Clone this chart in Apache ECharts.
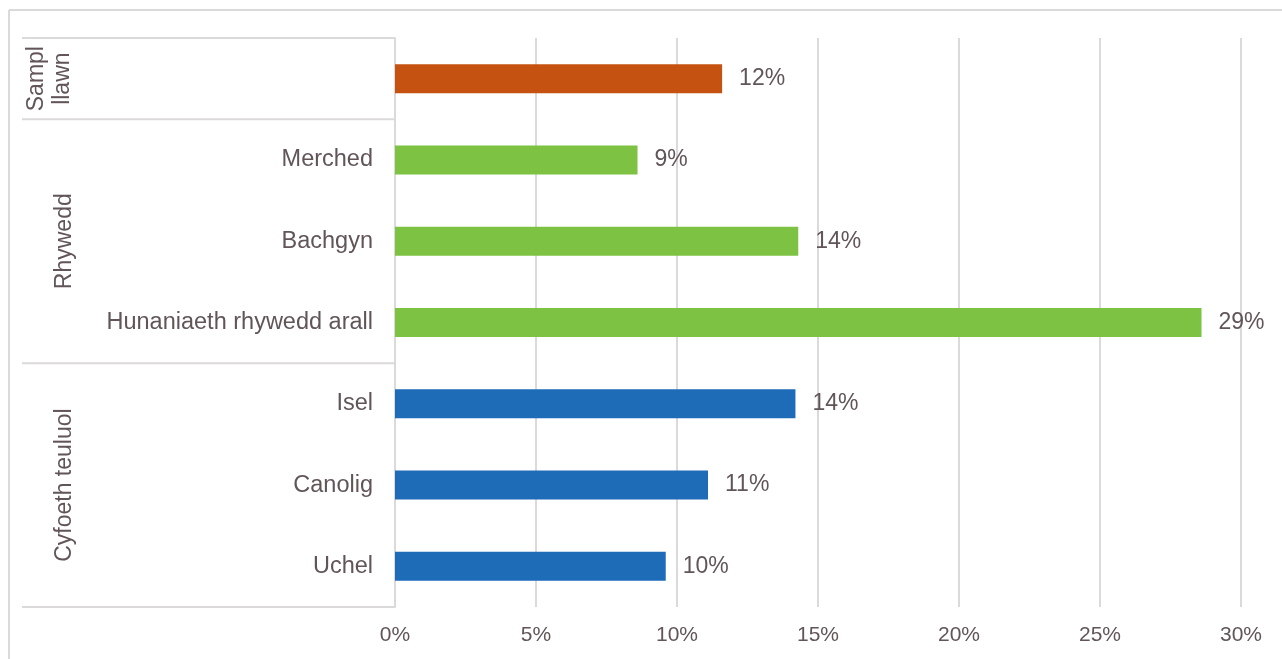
<!DOCTYPE html>
<html>
<head>
<meta charset="utf-8">
<script src="https://cdn.jsdelivr.net/npm/echarts@6/dist/echarts.min.js"></script>
<style>
  html, body { margin: 0; padding: 0; background: #fff; }
  #chart { width: 1282px; height: 659px; }
</style>
</head>
<body>
<div id="chart"></div>
<script>
// categories top to bottom
var categories = ['Sampl llawn', 'Merched', 'Bachgyn', 'Hunaniaeth rhywedd arall', 'Isel', 'Canolig', 'Uchel'];
var shownLabels = ['', 'Merched', 'Bachgyn', 'Hunaniaeth rhywedd arall', 'Isel', 'Canolig', 'Uchel'];
var values = [11.6, 8.6, 14.3, 28.6, 14.2, 11.1, 9.6];
var barColors = ['#c55211', '#7dc242', '#7dc242', '#7dc242', '#1e6bb8', '#1e6bb8', '#1e6bb8'];

// outer category groups
var groupNames = ['Sampl\nllawn', 'Rhywedd', 'Cyfoeth teuluol'];
var groupSizes = [1, 3, 3];
var groupLabelX = [50, 65, 65];

var xTicks = [0, 5, 10, 15, 20, 25, 30];

var textColor = '#615558';
var lineColor = '#dcd9da';
var fontFam = '"Liberation Sans", Arial, sans-serif';

var chart = echarts.init(document.getElementById('chart'), null, { renderer: 'canvas' });

chart.setOption({
  animation: false,
  textStyle: { fontFamily: fontFam },
  grid: { left: 395, right: 41, top: 38, bottom: 52, containLabel: false },
  xAxis: {
    type: 'value',
    min: xTicks[0],
    max: xTicks[xTicks.length - 1],
    interval: 5,
    axisLine: { show: false },
    axisTick: { show: false },
    axisLabel: {
      color: textColor, fontSize: 21, margin: 18, fontFamily: fontFam,
      formatter: function (v) { return v + '%'; }
    },
    splitLine: { show: true, lineStyle: { color: lineColor, width: 2 } }
  },
  yAxis: {
    type: 'category',
    inverse: true,
    data: categories,
    axisLine: { show: true, lineStyle: { color: lineColor, width: 2 } },
    axisTick: { show: false },
    axisLabel: {
      color: textColor, fontSize: 23.5, margin: 22, fontFamily: fontFam,
      formatter: function (v, i) { return shownLabels[i]; }
    }
  },
  series: [{
    type: 'bar',
    barWidth: 29,
    data: values.map(function (v, i) {
      return { value: v, itemStyle: { color: barColors[i] } };
    }),
    label: {
      show: true,
      position: 'right',
      distance: 17,
      color: textColor,
      fontSize: 23,
      fontFamily: fontFam,
      formatter: function (p) { return Math.round(p.value) + '%'; }
    }
  }]
});

// group separators and rotated group labels, positioned from the category axis
var c0 = chart.convertToPixel({ yAxisIndex: 0 }, categories[0]);
var c1 = chart.convertToPixel({ yAxisIndex: 0 }, categories[1]);
var band = c1 - c0;
var axisX = chart.convertToPixel({ xAxisIndex: 0 }, 0);
var graphics = [];
// outer chart border
graphics.push({ type: 'line', shape: { x1: 9, y1: 10, x2: 1282, y2: 10 }, style: { stroke: lineColor, lineWidth: 2 } });
graphics.push({ type: 'line', shape: { x1: 9, y1: 10, x2: 9, y2: 659 }, style: { stroke: lineColor, lineWidth: 2 } });

var idx = 0;
var topY = c0 - band / 2;
graphics.push({ type: 'line', shape: { x1: 22, y1: topY, x2: axisX, y2: topY }, style: { stroke: lineColor, lineWidth: 2 } });
for (var g = 0; g < groupNames.length; ++g) {
  var startY = chart.convertToPixel({ yAxisIndex: 0 }, categories[idx]) - band / 2;
  idx += groupSizes[g];
  var endY = chart.convertToPixel({ yAxisIndex: 0 }, categories[idx - 1]) + band / 2;
  graphics.push({ type: 'line', shape: { x1: 22, y1: endY, x2: axisX, y2: endY }, style: { stroke: lineColor, lineWidth: 2 } });
  graphics.push({
    type: 'text',
    x: groupLabelX[g],
    y: (startY + endY) / 2,
    rotation: Math.PI / 2,
    style: {
      text: groupNames[g],
      fill: textColor,
      font: '23px ' + fontFam,
      align: 'center',
      verticalAlign: 'middle',
      lineHeight: 26
    }
  });
}
chart.setOption({ graphic: graphics });
</script>
</body>
</html>
